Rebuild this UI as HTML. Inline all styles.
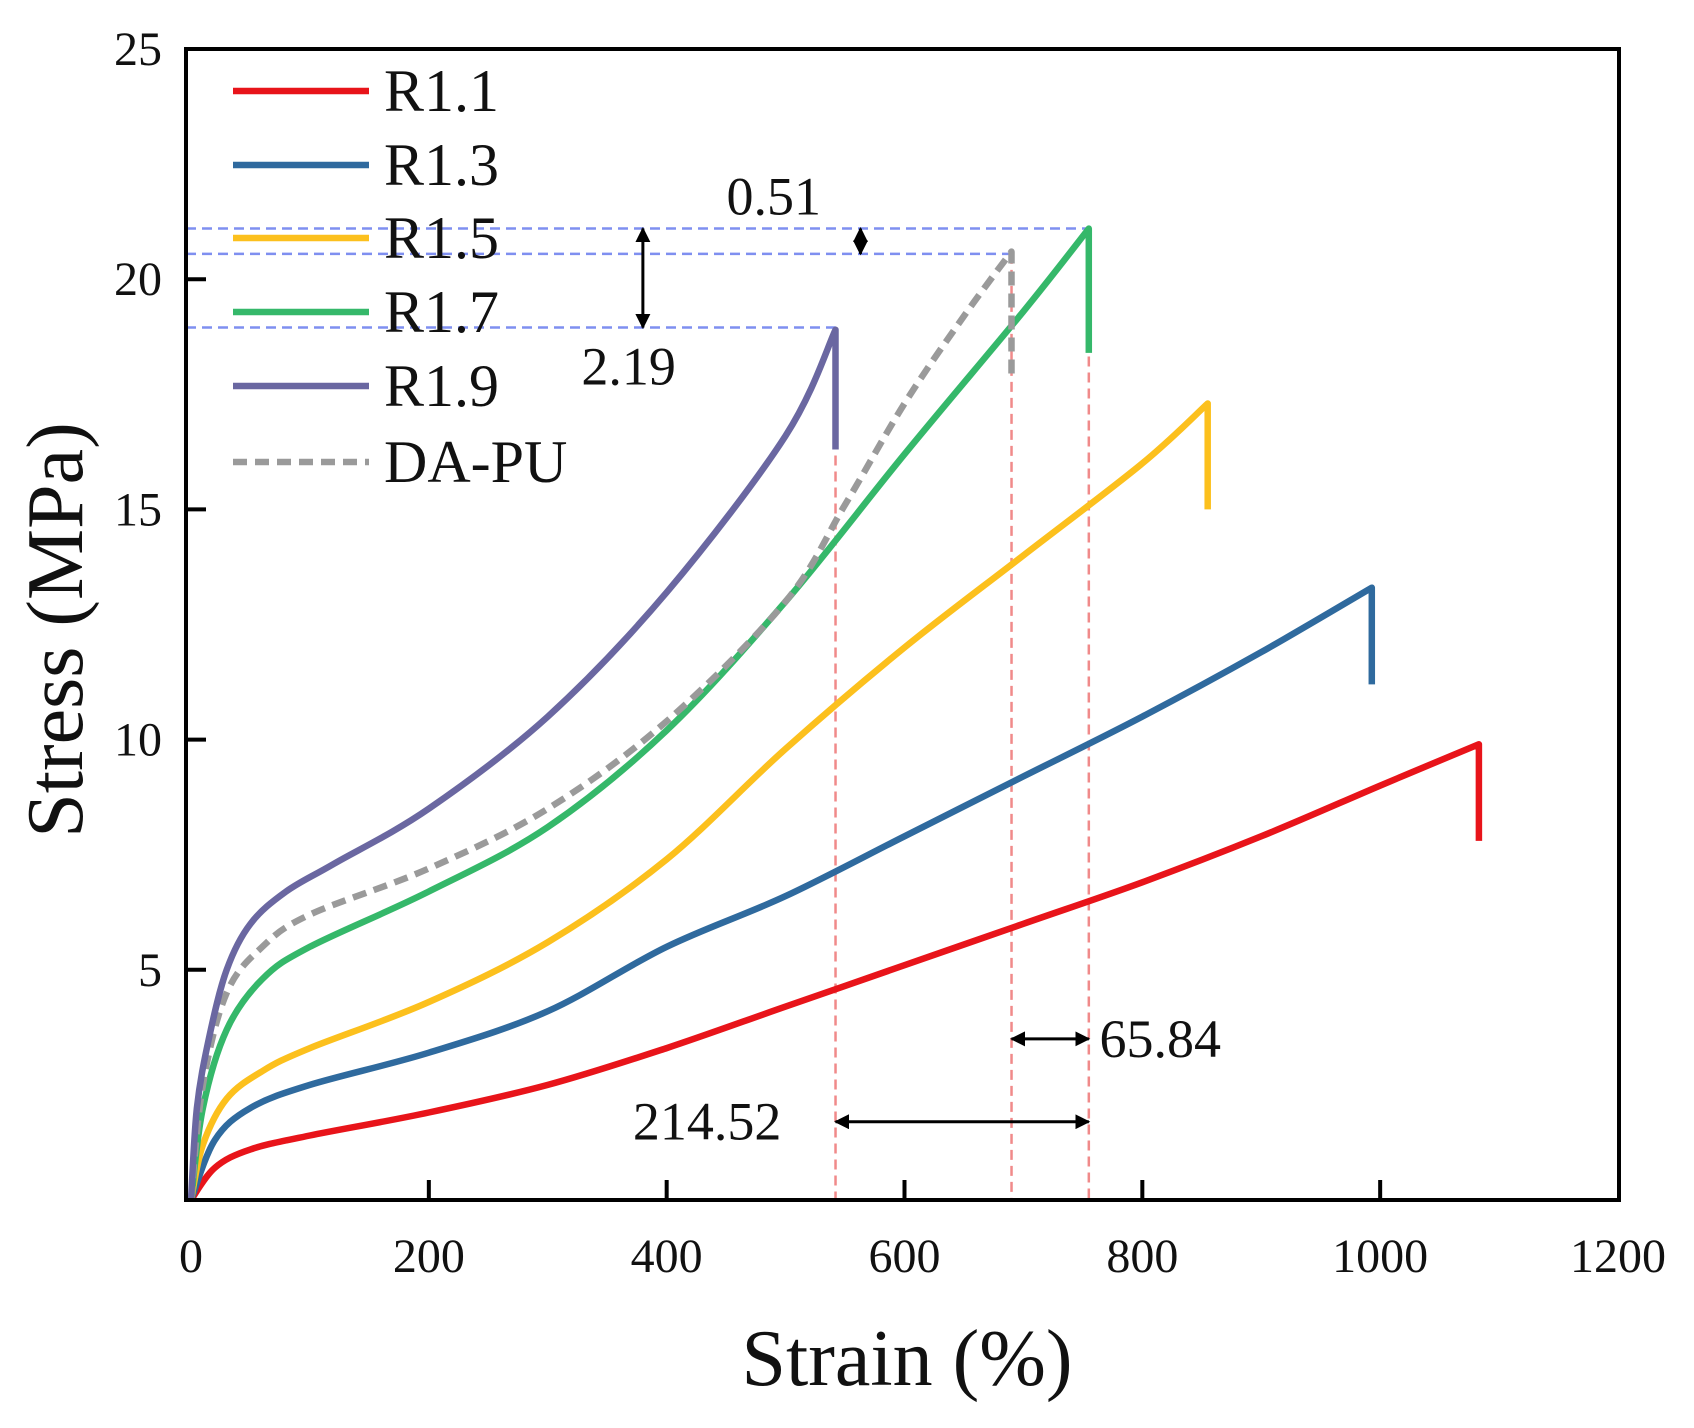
<!DOCTYPE html>
<html><head><meta charset="utf-8"><style>
html,body{margin:0;padding:0;background:#fff;}
svg text{font-family:"Liberation Serif",serif;fill:#111;}
</style></head><body>
<svg id="chart" width="1694" height="1423" viewBox="0 0 1694 1423">
<g id="plot"></g>
</svg>
<script>
const xTicks=[0,200,400,600,800,1000,1200];
const yTicks=[5,10,15,20,25];
const seriesNames=["R1.1","R1.3","R1.5","R1.7","R1.9","DA-PU"];
const seriesColors=["#e8141a","#2f6a9e","#fcc01d","#35b86a","#6a67a1","#9a9a9a"];
const r11X=[0,20,50,100,200,300,400,500,600,700,800,900,1000,1083,1083];
const r11Y=[0,0.7,1.1,1.4,1.9,2.5,3.3,4.2,5.1,6.0,6.9,7.9,9.0,9.9,7.8];
const r13X=[0,20,50,100,200,300,400,500,600,700,800,900,993,993];
const r13Y=[0,1.3,2.0,2.5,3.2,4.1,5.5,6.6,7.9,9.2,10.5,11.9,13.3,11.2];
const r15X=[0,10,30,60,100,200,300,400,500,600,700,800,855,855];
const r15Y=[0,1.2,2.2,2.8,3.3,4.3,5.6,7.4,9.8,12.0,14.0,16.0,17.3,15.0];
const r17X=[0,10,30,60,100,200,300,400,500,600,700,755,755];
const r17Y=[0,2.0,3.7,4.8,5.5,6.7,8.1,10.2,13.0,16.2,19.3,21.1,18.4];
const r19X=[0,5,15,30,50,80,120,200,300,400,500,542,542];
const r19Y=[0,2.0,3.5,5.0,6.0,6.7,7.3,8.5,10.5,13.2,16.6,18.9,16.3];
const dapuX=[0,10,30,60,100,200,300,400,500,550,600,650,690,690];
const dapuY=[0,2.5,4.5,5.5,6.2,7.2,8.5,10.4,13.0,15.1,17.3,19.2,20.6,17.8];
const peakX=[542,690,755];
const peakY=[18.95,20.55,21.1];
const annoLabels=["0.51","2.19","65.84","214.52"];

const L=186,R=1619,T=49,B=1200;
const sx=v=>191+v*(1618-191)/1200;
const sy=v=>B-v*(B-T)/25;
const NS="http://www.w3.org/2000/svg";
const g=document.getElementById('plot');
function mk(tag,attrs,parent){const e=document.createElementNS(NS,tag);for(const k in attrs)e.setAttribute(k,attrs[k]);(parent||g).appendChild(e);return e;}

function smoothPath(xs,ys){
  const n=xs.length;
  // last point is vertical drop; smooth up to n-2
  const P=xs.map((x,i)=>[sx(x),sy(ys[i])]);
  const m=n-1; // index of drop point
  let d='M'+P[0][0].toFixed(1)+','+P[0][1].toFixed(1);
  for(let i=0;i<m-1;i++){
    const p0=P[Math.max(i-1,0)],p1=P[i],p2=P[i+1],p3=P[Math.min(i+2,m-1)];
    const c1=[p1[0]+(p2[0]-p0[0])/6,p1[1]+(p2[1]-p0[1])/6];
    const c2=[p2[0]-(p3[0]-p1[0])/6,p2[1]-(p3[1]-p1[1])/6];
    d+=' C'+c1[0].toFixed(1)+','+c1[1].toFixed(1)+' '+c2[0].toFixed(1)+','+c2[1].toFixed(1)+' '+p2[0].toFixed(1)+','+p2[1].toFixed(1);
  }
  d+=' L'+P[m][0].toFixed(1)+','+P[m][1].toFixed(1);
  return d;
}

const guides=mk('g',{});


peakY.forEach((py,i)=>{
  const h=mk('line',{x1:L,x2:sx(peakX[i]),y1:sy(py),y2:sy(py),stroke:'#7f8ff0','stroke-width':2.5,'stroke-dasharray':'10,6'},guides);
  
  
  const v=mk('line',{x1:sx(peakX[i]),x2:sx(peakX[i]),y1:sy(py),y2:B,stroke:'#f08a8a','stroke-width':2.5,'stroke-dasharray':'10,6'},guides);
  
  
});

const allX=[r11X,r13X,r15X,r17X,r19X,dapuX], allY=[r11Y,r13Y,r15Y,r17Y,r19Y,dapuY];
const order=[0,1,2,3,5,4];
order.forEach(i=>{
  const p=mk('path',{d:smoothPath(allX[i],allY[i]),fill:'none',stroke:seriesColors[i],'stroke-width':6.5,'stroke-linejoin':'round'});
  if(i===5)p.setAttribute('stroke-dasharray','14,8');
  
  
});

const defs=mk('defs',{},document.getElementById('chart'));
const m=mk('marker',{id:'ah',viewBox:'0 0 10 10',refX:9,refY:5,markerWidth:5,markerHeight:5,orient:'auto-start-reverse'},defs);
mk('path',{d:'M0,0 L10,5 L0,10 z',fill:'#000'},m);
function arrow(x1,y1,x2,y2,name){const a=mk('line',{x1,y1,x2,y2,stroke:'#000','stroke-width':3,'marker-start':'url(#ah)','marker-end':'url(#ah)'});
}
arrow(sx(380),sy(peakY[2]),sx(380),sy(peakY[0]),'arrow-2-19');
arrow(sx(563),sy(peakY[2]),sx(563),sy(peakY[1]),'arrow-0-51');
arrow(sx(peakX[1]),sy(3.5),sx(peakX[2]),sy(3.5),'arrow-65-84');
arrow(sx(peakX[0]),sy(1.7),sx(peakX[2]),sy(1.7),'arrow-214-52');
function txt(x,y,s,size,name,anchor){const t=mk('text',{x,y,'font-size':size,'text-anchor':anchor||'start'});t.textContent=s;
return t;}
txt(sx(490),sy(21.8)+18,annoLabels[0],54,'label-0-51','middle');
txt(sx(368),sy(18.1)+18,annoLabels[1],54,'label-2-19','middle');
txt(sx(764),sy(3.5)+18,annoLabels[2],54,'label-65-84','start');
txt(sx(434),sy(1.7)+18,annoLabels[3],54,'label-214-52','middle');

const f=mk('rect',{x:L,y:T,width:R-L,height:B-T,fill:'none',stroke:'#000','stroke-width':4});


xTicks.forEach(v=>{
  if(v>0&&v<1200){const t=mk('line',{x1:sx(v),x2:sx(v),y1:B,y2:B-20,stroke:'#000','stroke-width':4});
  }
  txt(sx(v),B+72,String(v),48,'x-tick-label','middle');
});
yTicks.forEach(v=>{
  if(v<25){const t=mk('line',{x1:L,x2:L+20,y1:sy(v),y2:sy(v),stroke:'#000','stroke-width':4});
  }
  txt(L-24,sy(v)+16,String(v),48,'y-tick-label','end');
});
txt(907,1385,'Strain (%)',80,'x-axis-title','middle');
const yt=txt(0,0,'Stress (MPa)',80,'y-axis-title','middle');
yt.setAttribute('transform','translate(82,630) rotate(-90)');

const lg=mk('g',{});


const ly=[91,165,238,312,386,462];
seriesNames.forEach((n,i)=>{
  const l=mk('line',{x1:233,x2:369,y1:ly[i],y2:ly[i],stroke:seriesColors[i],'stroke-width':6.5},lg);
  if(i===5)l.setAttribute('stroke-dasharray','14,8');
  
  
  const t=txt(384,ly[i]+20,n,60,'legend-entry','start');
  lg.appendChild(t);
});
</script>
</body></html>
